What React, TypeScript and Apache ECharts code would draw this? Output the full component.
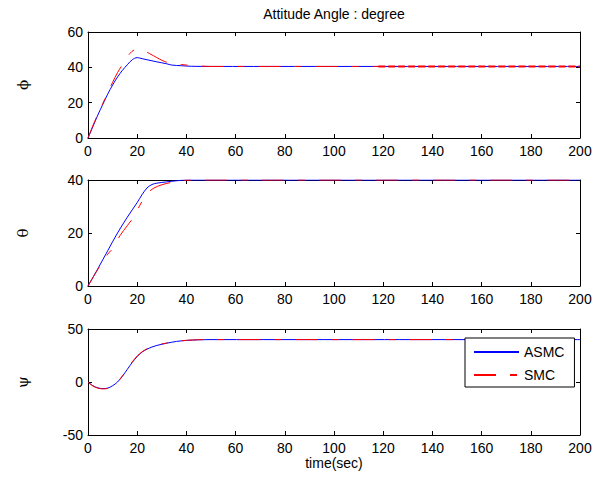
import React, { useEffect, useRef } from "react";
import * as echarts from "echarts";

// time axis ticks
const TIME_MIN = 0;
const TIME_MAX = 200;
const TIME_STEP = 20;

// φ (roll) response
const PHI_T = [0, 2, 4, 6, 8, 10, 12, 14, 16, 18, 20, 22, 24, 28, 32, 34, 38, 42, 50, 118, 200];
const PHI_ASMC = [0, 6.5, 13, 19, 24.8, 30, 34.5, 38.3, 41.5, 44.3, 45.5, 44.9, 44.3, 43.1, 42, 41.3, 40.9, 40.6, 40.5, 40.5, 40.5];
const PHI_SMC_T = [0, 2, 4, 6, 8, 10, 12, 14, 16, 17, 19, 21, 23, 25, 28, 30, 32, 35, 38, 42, 46, 50, 118];
const PHI_SMC = [0, 7, 13.5, 19.5, 25.5, 31.5, 37, 41.5, 45.5, 47.8, 50, 50.3, 49.2, 47.8, 45.5, 44, 42.9, 42, 41.6, 41, 40.7, 40.5, 40.5];
// chattering part of the SMC roll response
const PHI_SMC_TAIL_T = [118, 200];
const PHI_SMC_TAIL = [40.5, 40.5];

// θ (pitch) response
const TH_T = [0, 4, 8, 12, 16, 20, 22, 24, 26, 28, 32, 36, 40, 200];
const TH_ASMC = [0, 6.5, 13.3, 20, 26, 31.5, 34.5, 37, 38.3, 38.8, 39.3, 39.7, 40, 40];
const TH_SMC_T = [0, 4, 8, 10, 13, 16, 18, 21, 22.5, 24, 26.5, 30, 35, 38, 42, 200];
const TH_SMC = [0, 6.3, 12, 14.1, 19, 22.8, 25.3, 30.3, 32.8, 34.8, 36.8, 38.2, 39.3, 39.8, 40, 40];

// ψ (yaw) response
const PSI_T = [0, 2, 4, 6, 8, 10, 12, 14, 16, 18, 20, 22, 24, 26, 28, 32, 36, 40, 45, 50, 200];
const PSI_ASMC = [0, -3.5, -5.5, -6.2, -5.8, -3.5, 0, 5.5, 12, 18.5, 24, 28.3, 31, 33, 34.5, 36.6, 38.3, 39.2, 39.8, 40, 40];
const PSI_SMC = [0, -3.8, -5.8, -6.5, -6, -3.8, 0, 5.7, 12.5, 19, 24.5, 28.5, 31.3, 33.3, 34.7, 36.8, 38.4, 39.3, 39.9, 40, 40];

// y-axis ranges of the three panels: [min, max, interval]
const PHI_RANGE = [0, 60, 20];
const TH_RANGE = [0, 40, 20];
const PSI_RANGE = [-50, 50, 50];

const TITLE = "Attitude Angle : degree";
const X_NAME = "time(sec)";
const PANEL_NAMES = ["\u03d5", "\u03b8", "\u03c8"];
const LEGEND = ["ASMC", "SMC"];

const FONT = "'Liberation Sans', Arial, sans-serif";
const BLUE = "#0000ff";
const RED = "#ff0000";
const DASH = [22, 14, 7, 14];

const pairs = (t: number[], v: number[]) => t.map((x, i) => [x, v[i]]);

export default function App() {
  const ref = useRef<HTMLDivElement>(null);

  useEffect(() => {
    document.body.style.margin = "0";
    if (!ref.current) return;
    const chart = echarts.init(ref.current, undefined, { renderer: "svg" });

    const tops = [32, 180, 329];
    const height = 106;
    const grids = tops.map((top) => ({ left: 88, right: 21, top, height }));
    const ranges = [PHI_RANGE, TH_RANGE, PSI_RANGE];

    const labelStyle = { color: "#000", fontFamily: FONT, fontSize: 14 };
    const axisLine = { show: true, onZero: false, lineStyle: { color: "#000", width: 1 } };
    const tick = { show: true, inside: true, length: 4, lineStyle: { color: "#000" } };

    const xAxes: any[] = [];
    const yAxes: any[] = [];
    grids.forEach((_, g) => {
      xAxes.push({
        type: "value",
        gridIndex: g,
        position: "bottom",
        min: TIME_MIN,
        max: TIME_MAX,
        interval: TIME_STEP,
        axisLine,
        axisTick: tick,
        splitLine: { show: false },
        axisLabel: { ...labelStyle, margin: 6 },
        ...(g === 2
          ? {
              name: X_NAME,
              nameLocation: "middle",
              nameGap: 20,
              nameTextStyle: labelStyle,
            }
          : {}),
      });
      xAxes.push({
        type: "value",
        gridIndex: g,
        position: "top",
        min: TIME_MIN,
        max: TIME_MAX,
        interval: TIME_STEP,
        axisLine,
        axisTick: tick,
        splitLine: { show: false },
        axisLabel: { show: false },
      });
      const [mn, mx, iv] = ranges[g];
      yAxes.push({
        type: "value",
        gridIndex: g,
        position: "left",
        min: mn,
        max: mx,
        interval: iv,
        axisLine,
        axisTick: tick,
        splitLine: { show: false },
        axisLabel: { ...labelStyle, margin: 5 },
      });
      yAxes.push({
        type: "value",
        gridIndex: g,
        position: "right",
        min: mn,
        max: mx,
        interval: iv,
        axisLine,
        axisTick: tick,
        splitLine: { show: false },
        axisLabel: { show: false },
      });
    });

    const line = (name: string, g: number, data: number[][], color: string, dashed: boolean, width = 1, dash: any = DASH) => ({
      type: "line",
      name,
      xAxisIndex: g * 2,
      yAxisIndex: g * 2,
      data,
      showSymbol: false,
      symbol: "none",
      smooth: 0.35,
      lineStyle: { color, width, type: dashed ? dash : "solid" },
      itemStyle: { color },
    });

    const series = [
      line(LEGEND[0], 0, pairs(PHI_T, PHI_ASMC), BLUE, false),
      line(LEGEND[1], 0, pairs(PHI_SMC_T, PHI_SMC), RED, true),
      line("SMC chattering", 0, pairs(PHI_SMC_TAIL_T, PHI_SMC_TAIL), RED, true, 2, [7, 3]),
      line(LEGEND[0], 1, pairs(TH_T, TH_ASMC), BLUE, false),
      line(LEGEND[1], 1, pairs(TH_SMC_T, TH_SMC), RED, true),
      line(LEGEND[0], 2, pairs(PSI_T, PSI_ASMC), BLUE, false),
      line(LEGEND[1], 2, pairs(PSI_T, PSI_SMC), RED, true),
    ];

    // rotated panel labels, centred on each panel's vertical middle
    const panelLabels = tops.map((top, g) => ({
      type: "text",
      x: 23,
      y: top + height / 2,
      rotation: Math.PI / 2,
      style: {
        text: PANEL_NAMES[g],
        align: "center",
        verticalAlign: "middle",
        fill: "#000",
        font: "15px 'DejaVu Serif', serif",
      },
    }));

    chart.setOption({
      animation: false,
      backgroundColor: "#fff",
      grid: grids,
      xAxis: xAxes,
      yAxis: yAxes,
      series,
      legend: {
        data: LEGEND,
        orient: "vertical",
        left: 465,
        top: 338,
        itemWidth: 45,
        itemHeight: 14,
        itemGap: 9,
        padding: [7, 10, 5, 8],
        borderColor: "#000",
        borderWidth: 1,
        borderRadius: 0,
        backgroundColor: "#fff",
        selectedMode: false,
        itemStyle: { opacity: 0, borderWidth: 0 },
        textStyle: { color: "#000", fontFamily: FONT, fontSize: 14 },
      },
      graphic: [
        {
          type: "text",
          x: 334,
          y: 14,
          style: {
            text: TITLE,
            align: "center",
            verticalAlign: "middle",
            fill: "#000",
            font: `14px ${FONT}`,
          },
        },
        ...panelLabels,
      ],
    });

    return () => chart.dispose();
  }, []);

  return <div ref={ref} style={{ width: 601, height: 479 }} />;
}
